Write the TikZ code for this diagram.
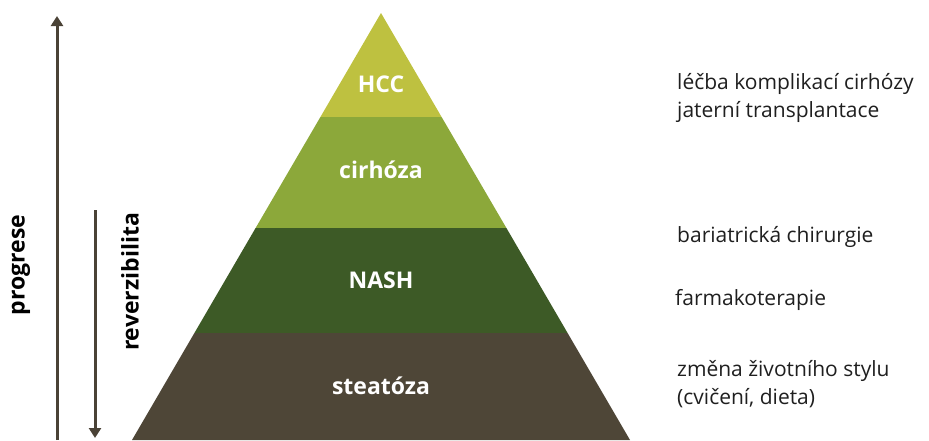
\documentclass[tikz,border=0pt]{standalone}
\usepackage{fontspec}
\setmainfont{Open Sans}
\usetikzlibrary{arrows.meta}
\definecolor{hccgreen}{RGB}{190,193,64}
\definecolor{cirgreen}{RGB}{140,168,58}
\definecolor{nashgreen}{RGB}{61,90,38}
\definecolor{steabrown}{RGB}{78,70,55}
\definecolor{axisbrown}{RGB}{74,66,54}
\tikzset{Pyramid/.style={
    x = 1pt, y = -1pt,
    layer/.style = {text=white, font=\bfseries\fontsize{23}{26}\selectfont},
    therapy/.style = {anchor=west, align=left, inner sep=0pt, text=black!88,
                      font=\fontsize{21}{28}\selectfont},
    axislabel/.style = {rotate=90, font=\bfseries\fontsize{23}{26}\selectfont},
    axis/.style = {draw=axisbrown, line width=3pt, -{Triangle[length=10pt, width=12pt]}}
}}

\begin{document}
\begin{tikzpicture}[Pyramid]
    \useasboundingbox (0,0) rectangle (929,440);

    % pyramid bands
    \fill [hccgreen]  (381,13) -- (441.6,117) -- (320.4,117) -- cycle;
    \fill [cirgreen]  (320.4,117) -- (441.6,117) -- (506.4,228) -- (255.6,228) -- cycle;
    \fill [nashgreen] (255.6,228) -- (506.4,228) -- (567.6,333) -- (194.4,333) -- cycle;
    \fill [steabrown] (194.4,333) -- (567.6,333) -- (630,440) -- (132,440) -- cycle;

    \node [layer] (hcc)      at (381,84)  {HCC};
    \node [layer] (cirhoza)  at (381,170) {cirhóza};
    \node [layer] (nash)     at (381,280) {NASH};
    \node [layer] (steatoza) at (381,386) {steatóza};

    % therapies
    \node [therapy] (lecba)     at (677,98)  {léčba komplikací cirhózy\\jaterní transplantace};
    \node [therapy] (bariatrie) at (677,237) {bariatrická chirurgie};
    \node [therapy] (farmako)   at (675,300) {farmakoterapie};
    \node [therapy] (zivotni)   at (677,384) {změna životního stylu\\(cvičení, dieta)};

    % axes
    \coordinate (prog-start) at (57,440);
    \coordinate (prog-end)   at (57,16);
    \coordinate (rev-start)  at (95,210);
    \coordinate (rev-end)    at (95,438);
    \draw [axis] (prog-start) -- (prog-end);
    \draw [axis] (rev-start) -- (rev-end);

    \node [axislabel] (progrese) at (21,265)  {progrese};
    \node [axislabel] (reverz)   at (130,282) {reverzibilita};
\end{tikzpicture}
\end{document}
